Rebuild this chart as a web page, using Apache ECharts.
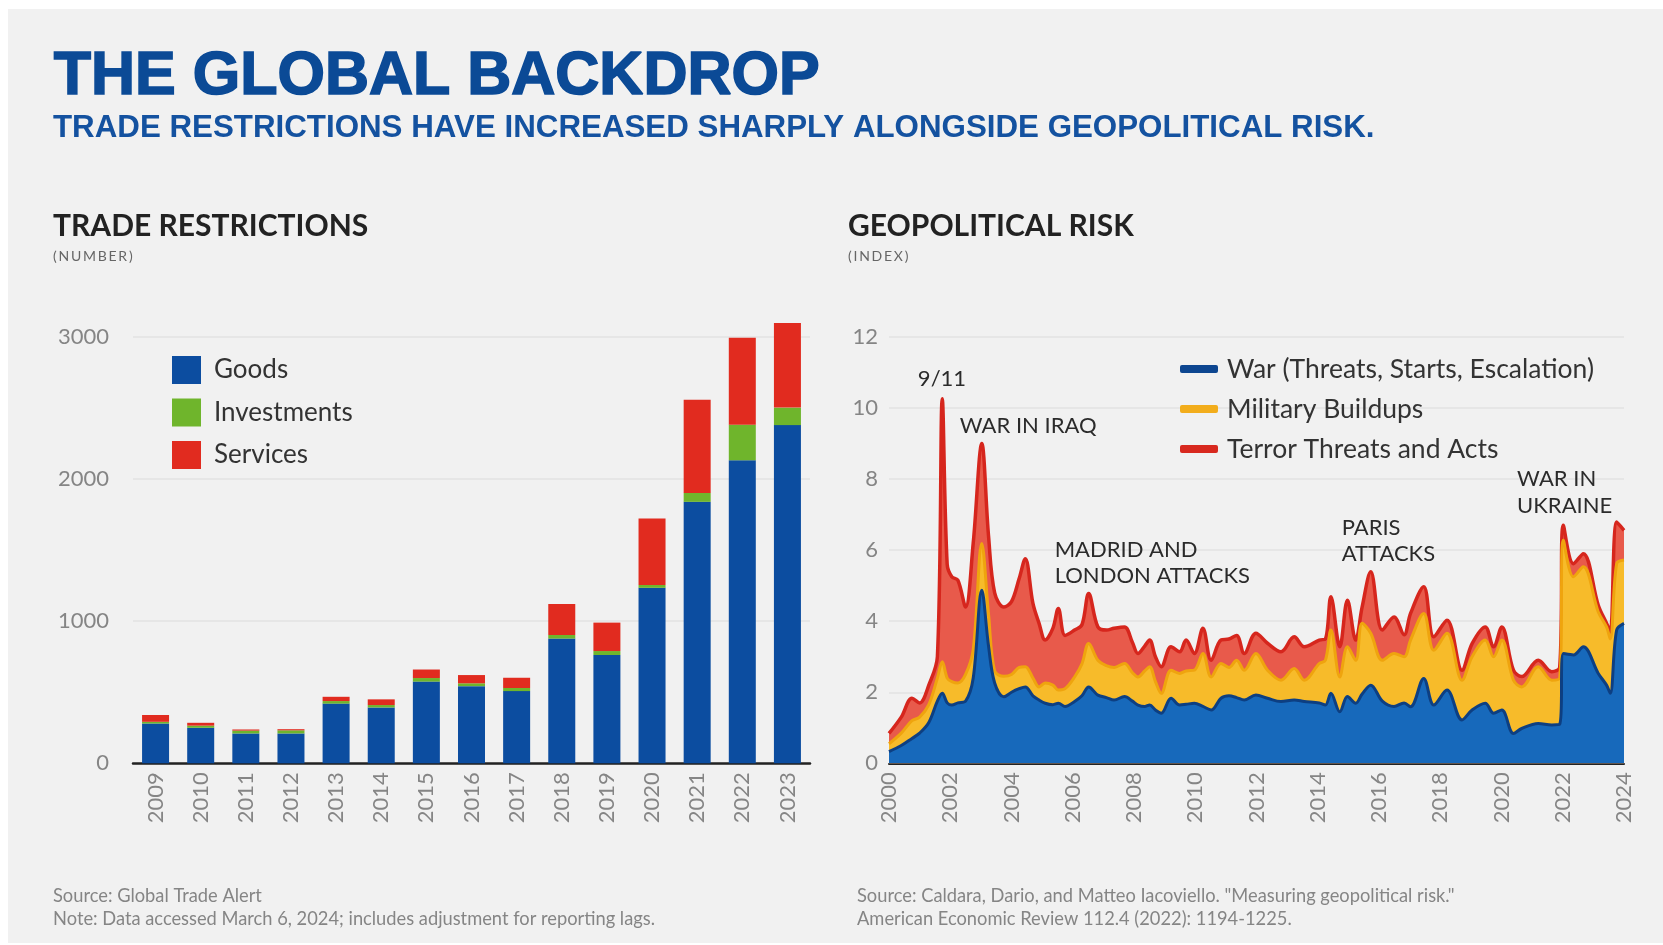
<!DOCTYPE html>
<html>
<head>
<meta charset="utf-8">
<script src="https://cdn.jsdelivr.net/npm/echarts@6/dist/echarts.min.js"></script>
<style>
html,body{margin:0;padding:0;background:#fff;}
#chart{width:1663px;height:945px;}
</style>
</head>
<body>
<div id="chart"></div>
<script>
// ---------- Trade restrictions (number) ----------
const barYears = ['2009','2010','2011','2012','2013','2014','2015','2016','2017','2018','2019','2020','2021','2022','2023'];
const goods       = [280, 250, 210, 210, 420, 393, 575, 543, 508, 878, 762, 1235, 1840, 2133, 2380];
const investments = [ 12,  15,  20,  22,  18,  17,  25,  20,  22,  25,  28,   20,   63,  250,  123];
const services    = [ 48,  20,   8,   8,  30,  40,  60,  58,  72, 218, 200,  468,  656,  612,  595];
const barYTicks = [0, 1000, 2000, 3000];

// ---------- Geopolitical risk (index), components ----------
const gprYears = [2000.0,2000.4,2000.75,2001.0,2001.3,2001.58,2001.74,2001.9,2002.05,2002.25,2002.5,2002.75,2003.03,2003.25,2003.45,2003.75,2004.0,2004.25,2004.45,2004.7,2004.9,2005.1,2005.35,2005.53,2005.75,2006.06,2006.3,2006.52,2006.82,2007.1,2007.35,2007.69,2007.95,2008.13,2008.35,2008.51,2008.7,2008.89,2009.21,2009.49,2009.7,2009.97,2010.25,2010.52,2010.84,2011.1,2011.35,2011.6,2011.98,2012.36,2012.8,2013.23,2013.56,2014.05,2014.25,2014.43,2014.72,2014.97,2015.24,2015.45,2015.73,2016.11,2016.49,2016.82,2017.03,2017.46,2017.79,2018.22,2018.71,2019.04,2019.47,2019.74,2020.01,2020.39,2020.66,2021.2,2021.64,2021.9,2022.02,2022.35,2022.67,2023.16,2023.43,2023.55,2023.76,2024.0];
const gprWar = [0.33,0.5,0.7,0.85,1.15,1.75,1.97,1.7,1.64,1.7,1.75,2.4,4.87,3.3,2.26,1.87,2.0,2.1,2.15,1.9,1.78,1.69,1.65,1.69,1.6,1.74,1.9,2.15,1.92,1.85,1.78,1.88,1.75,1.64,1.6,1.64,1.5,1.41,1.83,1.64,1.66,1.69,1.6,1.5,1.83,1.9,1.85,1.78,1.92,1.83,1.74,1.78,1.74,1.7,1.64,1.97,1.45,1.88,1.69,1.95,2.2,1.75,1.6,1.7,1.59,2.39,1.64,2.06,1.22,1.5,1.69,1.41,1.5,0.84,0.98,1.12,1.08,1.1,3.09,3.05,3.28,2.53,2.2,1.97,3.75,3.94];
const gprMilitary = [0.22,0.35,0.5,0.45,0.5,0.65,0.89,0.7,0.66,0.56,0.75,0.8,1.32,0.9,0.34,0.58,0.5,0.6,0.57,0.5,0.37,0.57,0.55,0.37,0.5,0.69,0.9,1.22,0.98,0.9,0.92,0.93,0.8,0.79,1.0,1.08,0.8,0.56,0.79,0.89,0.94,0.93,1.49,0.93,0.98,0.8,1.05,0.84,1.17,0.79,0.6,0.89,0.6,1.11,1.26,1.78,0.98,1.4,1.21,1.99,1.46,1.15,1.49,1.3,1.88,1.83,1.54,1.6,1.12,1.5,1.78,1.59,1.97,1.5,1.17,1.6,1.26,1.3,3.19,2.2,2.25,1.73,1.64,1.53,1.87,1.78];
const gprTerror = [0.29,0.45,0.63,0.4,0.55,0.6,7.4,3.2,2.95,2.89,1.9,3.0,2.81,2.2,2.2,1.95,2.05,2.5,3.04,2.1,1.79,1.21,1.6,2.3,1.5,1.32,1.1,1.41,0.94,1.0,1.1,1.03,0.85,0.66,0.7,0.75,0.7,0.75,0.66,0.61,0.87,0.47,0.71,0.47,0.66,0.8,0.7,0.47,0.57,0.76,0.8,0.89,0.94,0.66,0.6,0.94,0.85,1.31,0.57,0.46,1.73,0.85,1.03,0.62,0.75,0.75,0.38,0.37,0.28,0.37,0.37,0.28,0.37,0.28,0.29,0.18,0.24,0.3,0.42,0.37,0.37,0.19,0.1,0.2,1.17,0.84];
const gprYTicks = [0, 2, 4, 6, 8, 10, 12];
const gprXTicks = [2000, 2002, 2004, 2006, 2008, 2010, 2012, 2014, 2016, 2018, 2020, 2022, 2024];

// annotation labels: [year, index level, text, align]
const annotations = [
  [2001.73, 10.81, '9/11', 'center'],
  [2002.31, 9.49, 'WAR IN IRAQ', 'left'],
  [2005.41, 6.0, 'MADRID AND', 'left'],
  [2005.41, 5.27, 'LONDON ATTACKS', 'left'],
  [2014.78, 6.62, 'PARIS', 'left'],
  [2014.78, 5.89, 'ATTACKS', 'left'],
  [2020.51, 8.0, 'WAR IN', 'left'],
  [2020.51, 7.24, 'UKRAINE', 'left']
];

const FONT = 'Lato, "Noto Sans", sans-serif';
const chart = echarts.init(document.getElementById('chart'), null, {renderer: 'canvas'});

// stacked levels (layer tops) built from the components
const levelWar = gprWar.map(v => v);
const levelMil = gprWar.map((v, i) => +(v + gprMilitary[i]).toFixed(3));
const levelAll = levelMil.map((v, i) => +(v + gprTerror[i]).toFixed(3));
function pairs(vals) { return gprYears.map((y, i) => [y, vals[i]]); }

const footFont = '18.3px ' + FONT;
const staticGraphics = [
  {type:'rect', shape:{x:8, y:9, width:1655, height:934}, style:{fill:'#f1f1f1'}, z:-10, silent:true},
  {type:'text', left:53, top:46, z:10, style:{text:'THE GLOBAL BACKDROP', font:'bold 61px "Liberation Sans", Arial, sans-serif', fill:'#0b4a96', stroke:'#0b4a96', lineWidth:1.6}},
  {type:'text', left:53, top:113, z:10, style:{text:'TRADE RESTRICTIONS HAVE INCREASED SHARPLY ALONGSIDE GEOPOLITICAL RISK.', font:'bold 31.3px "Liberation Sans", Arial, sans-serif', fill:'#1452a0'}},
  {type:'text', left:53, top:211, z:10, style:{text:'TRADE RESTRICTIONS', font:'bold 30px ' + FONT, fill:'#222'}},
  {type:'text', left:53, top:249, z:10, style:{text:'(\u2009N\u2009U\u2009M\u2009B\u2009E\u2009R\u2009)', font:'14px ' + FONT, fill:'#666'}},
  {type:'text', left:848, top:211, z:10, style:{text:'GEOPOLITICAL RISK', font:'bold 30px ' + FONT, fill:'#222'}},
  {type:'text', left:848, top:249, z:10, style:{text:'(\u2009I\u2009N\u2009D\u2009E\u2009X\u2009)', font:'14px ' + FONT, fill:'#666'}},
  {type:'text', left:53, top:887, z:10, style:{text:'Source: Global Trade Alert', font:footFont, fill:'#858585'}},
  {type:'text', left:53, top:910, z:10, style:{text:'Note: Data accessed March 6, 2024; includes adjustment for reporting lags.', font:footFont, fill:'#858585'}},
  {type:'text', left:857, top:887, z:10, style:{text:'Source: Caldara, Dario, and Matteo Iacoviello. "Measuring geopolitical risk."', font:footFont, fill:'#858585'}},
  {type:'text', left:857, top:910, z:10, style:{text:'American Economic Review 112.4 (2022): 1194-1225.', font:footFont, fill:'#858585'}}
];

const axisLabelStyle = {fontFamily: FONT, fontSize: 22, color: '#858585'};

const option = {
  backgroundColor: '#ffffff',
  animation: false,
  graphic: staticGraphics,
  legend: [
    {
      orient: 'vertical', left: 167, top: 351,
      itemWidth: 29, itemHeight: 28, itemGap: 14.5, icon: 'rect',
      textStyle: {fontFamily: FONT, fontSize: 26, color: '#333', lineHeight: 28, padding: [0,0,0,8]},
      data: ['Goods', 'Investments', 'Services']
    },
    {
      orient: 'vertical', left: 1175, top: 350,
      itemWidth: 38, itemHeight: 8, itemGap: 12, icon: 'roundRect',
      textStyle: {fontFamily: FONT, fontSize: 26.5, color: '#333', lineHeight: 28, padding: [0,0,0,4]},
      data: ['War (Threats, Starts, Escalation)', 'Military Buildups', 'Terror Threats and Acts']
    }
  ],
  grid: [
    {left: 133, right: 853, top: 337, bottom: 181.7},
    {left: 889, right: 39, top: 337, bottom: 181.7}
  ],
  xAxis: [
    {
      type: 'category', gridIndex: 0, data: barYears,
      axisTick: {show: false},
      axisLine: {lineStyle: {color: '#222', width: 2.5}},
      axisLabel: Object.assign({rotate: 90, margin: 9}, axisLabelStyle)
    },
    {
      type: 'value', gridIndex: 1, min: gprXTicks[0], max: gprXTicks[gprXTicks.length-1], interval: 2,
      splitLine: {show: false},
      axisTick: {show: false},
      axisLine: {lineStyle: {color: '#222', width: 2}},
      axisLabel: Object.assign({rotate: 90, margin: 9, formatter: v => String(v)}, axisLabelStyle)
    }
  ],
  yAxis: [
    {
      type: 'value', gridIndex: 0, min: barYTicks[0], max: barYTicks[barYTicks.length-1], interval: 1000,
      axisLine: {show: false}, axisTick: {show: false},
      splitLine: {lineStyle: {color: '#e2e2e2', width: 1.5}},
      axisLabel: Object.assign({margin: 24, formatter: v => String(v)}, axisLabelStyle)
    },
    {
      type: 'value', gridIndex: 1, min: gprYTicks[0], max: gprYTicks[gprYTicks.length-1], interval: 2,
      axisLine: {show: false}, axisTick: {show: false},
      splitLine: {lineStyle: {color: '#e2e2e2', width: 1.5}},
      axisLabel: Object.assign({margin: 11, formatter: v => String(v)}, axisLabelStyle)
    }
  ],
  series: [
    {name: 'Goods', type: 'bar', stack: 'tr', xAxisIndex: 0, yAxisIndex: 0, barWidth: 27, clip: false,
     itemStyle: {color: '#0c4da0'}, data: goods},
    {name: 'Investments', type: 'bar', stack: 'tr', xAxisIndex: 0, yAxisIndex: 0, barWidth: 27, clip: false,
     itemStyle: {color: '#6fb52c'}, data: investments},
    {name: 'Services', type: 'bar', stack: 'tr', xAxisIndex: 0, yAxisIndex: 0, barWidth: 27, clip: false,
     itemStyle: {color: '#e12b1f'}, data: services},

    {name: 'Terror Threats and Acts', type: 'line', xAxisIndex: 1, yAxisIndex: 1,
     smooth: 0.35, symbol: 'none', z: 3, color: '#d8291f',
     lineStyle: {color: '#d6261d', width: 3.5}, areaStyle: {color: '#e85a4b', opacity: 1},
     data: pairs(levelAll)},
    {name: 'Military Buildups', type: 'line', xAxisIndex: 1, yAxisIndex: 1,
     smooth: 0.35, symbol: 'none', z: 4, color: '#f2ad1c',
     lineStyle: {color: '#efa40e', width: 3}, areaStyle: {color: '#f7bb2a', opacity: 1},
     data: pairs(levelMil)},
    {name: 'War (Threats, Starts, Escalation)', type: 'line', xAxisIndex: 1, yAxisIndex: 1,
     smooth: 0.35, symbol: 'none', z: 5, color: '#0d4690',
     lineStyle: {color: '#0d3f82', width: 3}, areaStyle: {color: '#1769bb', opacity: 1},
     data: pairs(levelWar)}
  ]
};

chart.setOption(option);

// annotations anchored to data coordinates
const annGraphics = annotations.map(a => {
  const p = chart.convertToPixel({gridIndex: 1}, [a[0], a[1]]);
  return {type: 'text', x: p[0], y: p[1], z: 10,
          style: {text: a[2], font: '22px ' + FONT, fill: '#2b2b2b', textAlign: a[3], textVerticalAlign: 'middle'}};
});
chart.setOption({graphic: staticGraphics.concat(annGraphics)});
</script>
</body>
</html>
